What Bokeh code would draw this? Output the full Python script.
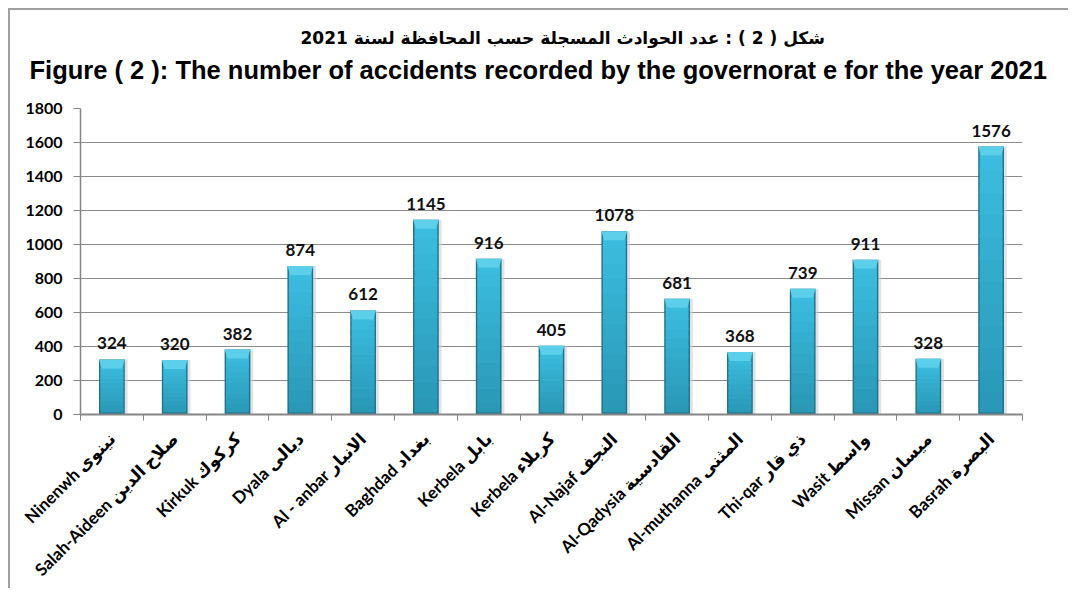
import math
from bokeh.plotting import figure
from bokeh.models import Range1d, FixedTicker, Title
from bokeh.core.properties import value
from bokeh.embed import file_html
from bokeh.resources import INLINE

# ---- data ----
categories = [
    "Ninenwh نينوى", "Salah-Aideen صلاح الدين", "Kirkuk كركوك", "Dyala ديالى",
    "Al - anbar الانبار", "Baghdad بغداد", "Kerbela بابل", "Kerbela كربلاء",
    "Al-Najaf النجف", "Al-Qadysia القادسية", "Al-muthanna المثنى", "Thi-qar ذي قار",
    "Wasit واسط", "Missan ميسان", "Basrah البصرة",
]
accidents = [324, 320, 382, 874, 612, 1145, 916, 405, 1078, 681, 368, 739, 911, 328, 1576]
y_ticks = [0, 200, 400, 600, 800, 1000, 1200, 1400, 1600, 1800]
title_ar = "شكل ( 2 ) : عدد الحوادث المسجلة حسب المحافظة لسنة 2021"
title_en = "Figure ( 2 ): The number of accidents recorded by the governorat e for the year 2021"

n = len(categories)
xs = list(range(n))

W, H = 1060, 580
p = figure(width=W, height=H, output_backend="svg", toolbar_location=None,
           x_range=Range1d(-0.5, n - 0.5), y_range=Range1d(0, 1800),
           min_border_left=70, min_border_right=48, min_border_top=98, min_border_bottom=174)
p.styles = {"border-left": "2px solid #a0a0a0", "border-top": "2px solid #a0a0a0",
            "margin-left": "8px", "margin-top": "8px"}
p.outline_line_color = None
p.background_fill_color = "white"
p.border_fill_color = "white"

# titles (first added sits closest to the plot); the first is a blank white spacer
p.add_layout(Title(text=".", text_font_size="10px", text_color="white", standoff=15), "above")
p.add_layout(Title(text=title_en, align="left",
                   text_font="Liberation Sans", text_font_style="bold",
                   text_font_size="25.5px", text_color="black",
                   standoff=0, offset=-51), "above")
p.add_layout(Title(text=title_ar, align="left", text_font="DejaVu Sans",
                   text_font_style="bold", text_font_size="17px", text_color="black",
                   standoff=11, offset=220), "above")

unit = 1800 / 306.6  # data units per pixel (approx.)
tops = accidents
bw = 0.41
inner = 0.365

# soft shadow
p.vbar(x=[x + 0.045 for x in xs], top=tops, width=bw, fill_color="#cfcfcf",
       fill_alpha=0.6, line_color=None)
# dark bevel edge
p.vbar(x=xs, top=tops, width=bw, fill_color="#1e7289", line_color=None)
# body with a vertical gradient (light at top, darker at bottom)
steps = 12
c_top = (0x3c, 0xbe, 0xe1)
c_bot = (0x29, 0x96, 0xb4)
for k in range(steps):
    f = (k + 0.5) / steps
    col = "#%02x%02x%02x" % tuple(int(round(b + (t - b) * f)) for t, b in zip(c_top, c_bot))
    last = k == steps - 1
    p.vbar(x=xs, bottom=[max(2 * unit, (t - 2 * unit) * k / steps) for t in tops],
           top=[(t - 2 * unit) * (k + 1) / steps + (0 if last else 2 * unit) for t in tops],
           width=inner, fill_color=col, line_color=None)
# bevelled top cap
cap_h = 9 * unit
d = 0.045
cap_xs = [[x - bw / 2, x + bw / 2, x + bw / 2 - d, x - bw / 2 + d] for x in xs]
cap_ys = [[t, t, t - cap_h, t - cap_h] for t in tops]
p.patches(xs=cap_xs, ys=cap_ys, fill_color="#5ccfea", line_color=None)

p.text(x=xs, y=tops, text=[str(v) for v in accidents], text_align="center",
       text_baseline="bottom", y_offset=-10, text_font=value("Lato"),
       text_font_style="bold", text_font_size="17px", text_color="#111111")

# y axis
p.yaxis.ticker = FixedTicker(ticks=y_ticks)
p.yaxis.axis_line_color = "#868686"
p.yaxis.axis_line_width = 1.5
p.yaxis.major_tick_line_color = "#868686"
p.yaxis.major_tick_out = 7
p.yaxis.major_tick_in = 0
p.yaxis.minor_tick_line_color = None
p.yaxis.major_label_text_font = "Lato"
p.yaxis.major_label_text_font_style = "bold"
p.yaxis.major_label_text_font_size = "16px"
p.yaxis.major_label_text_color = "black"
p.yaxis.major_label_standoff = 11

# x axis
p.xaxis.ticker = FixedTicker(ticks=xs, minor_ticks=[x - 0.5 for x in xs] + [n - 0.5])
p.xaxis.major_label_overrides = {x: c for x, c in zip(xs, categories)}
p.xaxis.axis_line_color = "#868686"
p.xaxis.axis_line_width = 2
p.xaxis.major_tick_line_color = None
p.xaxis.major_tick_out = 0
p.xaxis.major_tick_in = 0
p.xaxis.minor_tick_line_color = "#868686"
p.xaxis.minor_tick_out = 6
p.xaxis.minor_tick_in = 0
p.xaxis.major_label_orientation = math.pi / 4
p.xaxis.major_label_text_font = "Lato, DejaVu Sans"
p.xaxis.major_label_text_font_style = "bold"
p.xaxis.major_label_text_font_size = "17px"
p.xaxis.major_label_text_color = "black"
p.xaxis.major_label_standoff = 15

p.xgrid.grid_line_color = None
p.ygrid.ticker = FixedTicker(ticks=y_ticks)
p.ygrid.grid_line_color = "#8c8c8c"
p.ygrid.grid_line_width = 1

open("out.html", "w").write(file_html(p, INLINE))
